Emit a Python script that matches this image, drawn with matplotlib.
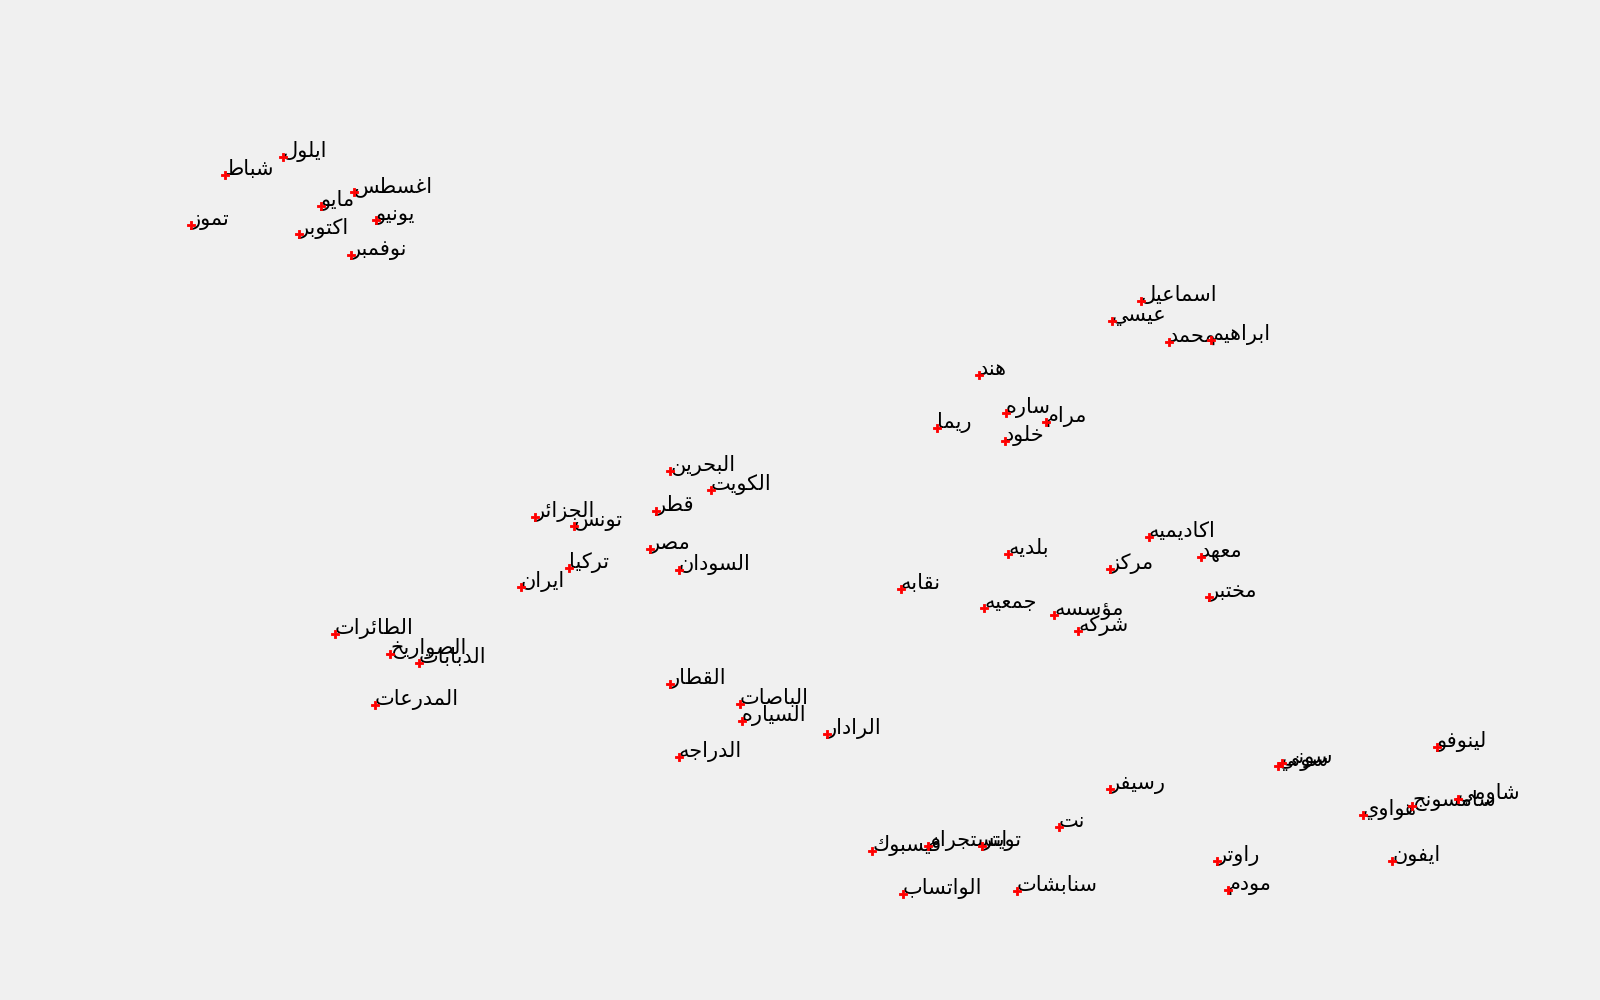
import matplotlib
matplotlib.use("Agg")
import matplotlib.pyplot as plt

# ---------------- data (2-D embedding coordinates) ----------------
words = ["ايلول", "شباط", "اغسطس", "مايو", "تموز", "يونيو", "اكتوبر", "نوفمبر",
         "اسماعيل", "عيسي", "محمد", "ابراهيم", "هند", "ساره", "مرام", "ريما", "خلود",
         "البحرين", "الكويت", "قطر", "الجزائر", "تونس", "مصر", "تركيا", "السودان", "ايران",
         "الطائرات", "الصواريخ", "الدبابات", "المدرعات",
         "القطار", "الباصات", "السياره", "الرادار", "الدراجه",
         "اكاديميه", "بلديه", "معهد", "مركز", "نقابه", "مختبر", "جمعيه", "مؤسسه", "شركه",
         "رسيفر", "نت", "فيسبوك", "انستجرام", "تويتر", "الواتساب", "سنابشات", "راوتر", "مودم",
         "لينوفو", "سوني", "سونى", "هواوي", "سامسونج", "شاومي", "ايفون"]

xs = [-51.7, -57.5, -44.6, -47.9, -60.9, -42.4, -50.1, -44.9,
      34.1, 31.2, 36.9, 41.1, 17.9, 20.6, 24.6, 13.7, 20.5,
      -13.0, -8.9, -14.4, -26.5, -22.6, -15.0, -23.1, -12.1, -27.9,
      -46.5, -41.0, -38.1, -42.5,
      -13.0, -6.0, -5.8, 2.7, -12.1,
      34.9, 20.8, 40.1, 31.0, 10.1, 40.9, 18.4, 25.4, 27.8,
      31.0, 25.9, 7.2, 12.8, 18.2, 10.3, 21.7, 41.7, 42.8,
      63.7, 47.8, 48.2, 56.3, 61.2, 65.8, 59.2]

ys = [34.3, 32.5, 30.8, 29.4, 27.5, 28.0, 26.6, 24.5,
      19.9, 17.9, 15.8, 16.0, 12.5, 8.7, 7.8, 7.2, 5.9,
      2.9, 1.0, -1.1, -1.7, -2.6, -4.9, -6.8, -7.0, -8.7,
      -13.4, -15.4, -16.3, -20.5,
      -18.4, -20.4, -22.1, -23.4, -25.7,
      -3.7, -5.4, -5.7, -6.9, -8.9, -9.7, -10.8, -11.5, -13.1,
      -28.9, -32.7, -35.1, -34.6, -34.6, -39.4, -39.1, -36.1, -39.0,
      -24.7, -26.6, -26.3, -31.5, -30.6, -29.9, -36.1]

# ---------------- minimal Arabic shaping (presentation forms + visual order) ----------------
# (isolated, final, initial, medial); right-joining letters have only two forms
FORMS = {
    "ء": (0xFE80,), "آ": (0xFE81, 0xFE82), "أ": (0xFE83, 0xFE84), "ؤ": (0xFE85, 0xFE86),
    "إ": (0xFE87, 0xFE88), "ئ": (0xFE89, 0xFE8A, 0xFE8B, 0xFE8C), "ا": (0xFE8D, 0xFE8E),
    "ب": (0xFE8F, 0xFE90, 0xFE91, 0xFE92), "ة": (0xFE93, 0xFE94),
    "ت": (0xFE95, 0xFE96, 0xFE97, 0xFE98), "ث": (0xFE99, 0xFE9A, 0xFE9B, 0xFE9C),
    "ج": (0xFE9D, 0xFE9E, 0xFE9F, 0xFEA0), "ح": (0xFEA1, 0xFEA2, 0xFEA3, 0xFEA4),
    "خ": (0xFEA5, 0xFEA6, 0xFEA7, 0xFEA8), "د": (0xFEA9, 0xFEAA), "ذ": (0xFEAB, 0xFEAC),
    "ر": (0xFEAD, 0xFEAE), "ز": (0xFEAF, 0xFEB0),
    "س": (0xFEB1, 0xFEB2, 0xFEB3, 0xFEB4), "ش": (0xFEB5, 0xFEB6, 0xFEB7, 0xFEB8),
    "ص": (0xFEB9, 0xFEBA, 0xFEBB, 0xFEBC), "ض": (0xFEBD, 0xFEBE, 0xFEBF, 0xFEC0),
    "ط": (0xFEC1, 0xFEC2, 0xFEC3, 0xFEC4), "ظ": (0xFEC5, 0xFEC6, 0xFEC7, 0xFEC8),
    "ع": (0xFEC9, 0xFECA, 0xFECB, 0xFECC), "غ": (0xFECD, 0xFECE, 0xFECF, 0xFED0),
    "ف": (0xFED1, 0xFED2, 0xFED3, 0xFED4), "ق": (0xFED5, 0xFED6, 0xFED7, 0xFED8),
    "ك": (0xFED9, 0xFEDA, 0xFEDB, 0xFEDC), "ل": (0xFEDD, 0xFEDE, 0xFEDF, 0xFEE0),
    "م": (0xFEE1, 0xFEE2, 0xFEE3, 0xFEE4), "ن": (0xFEE5, 0xFEE6, 0xFEE7, 0xFEE8),
    "ه": (0xFEE9, 0xFEEA, 0xFEEB, 0xFEEC), "و": (0xFEED, 0xFEEE),
    "ى": (0xFEEF, 0xFEF0), "ي": (0xFEF1, 0xFEF2, 0xFEF3, 0xFEF4),
}


def joins_forward(ch):
    return ch in FORMS and len(FORMS[ch]) == 4


def shape(word):
    out = []
    n = len(word)
    for i, ch in enumerate(word):
        if ch not in FORMS:
            out.append(ch)
            continue
        f = FORMS[ch]
        prev_j = i > 0 and joins_forward(word[i - 1])
        next_j = joins_forward(ch) and i < n - 1 and word[i + 1] in FORMS and len(FORMS[word[i + 1]]) > 1
        if len(f) == 1:
            code = f[0]
        elif prev_j and next_j:
            code = f[3]
        elif prev_j:
            code = f[1]
        elif next_j:
            code = f[2]
        else:
            code = f[0]
        out.append(chr(code))
    return "".join(reversed(out))


# ---------------- plot ----------------
bg = "#f0f0f0"
fig = plt.figure(figsize=(16, 10), dpi=100, facecolor=bg)
ax = fig.add_axes([0, 0, 1, 1])
ax.set_facecolor(bg)
ax.set_xlim(-80, 80)
ax.set_ylim(-50, 50)
ax.axis("off")

ax.scatter(xs, ys, marker="P", s=36, c="red", edgecolors="red", linewidths=0.6, zorder=3)
for w, x, y in zip(words, xs, ys):
    ax.annotate(shape(w), xy=(x, y), fontsize=15, color="black",
                family="DejaVu Sans", ha="left", va="baseline", zorder=2)

fig.savefig("out.png", dpi=100, facecolor=bg)
